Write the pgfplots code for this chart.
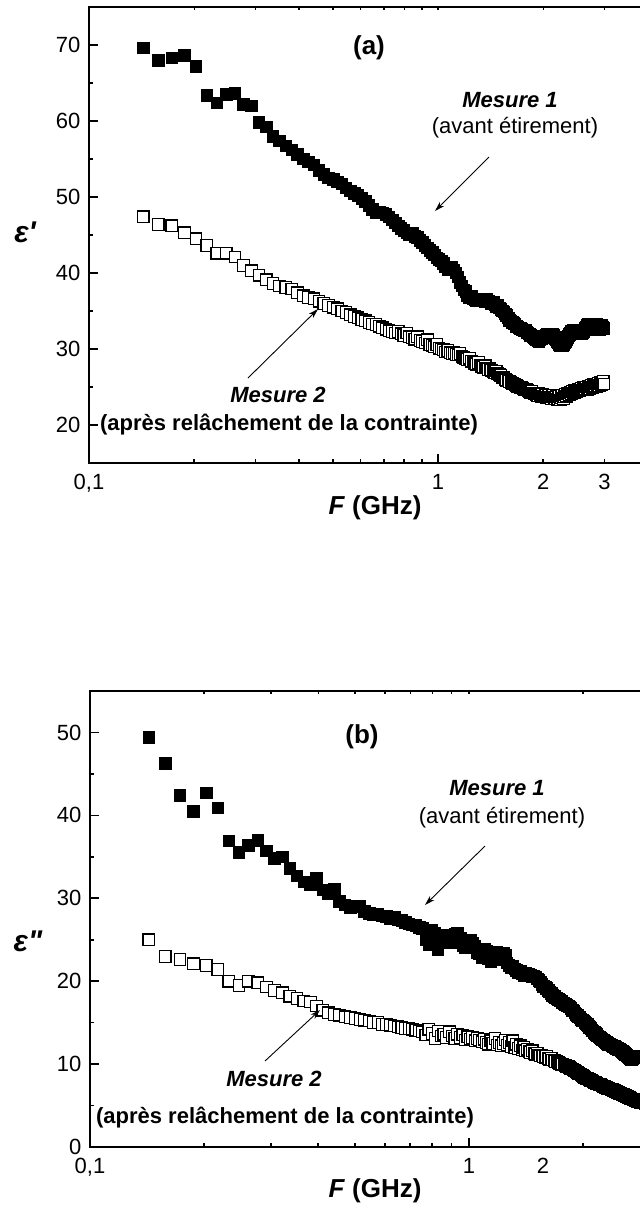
\documentclass[border=0pt]{standalone}
\usepackage{pgfplots}
\pgfplotsset{compat=1.18}
\usepackage{pgfplotstable}
\usepackage{fontspec}
\setmainfont{Liberation Sans}
\usetikzlibrary{arrows.meta}

\pgfplotstableread{
f a1 a2 b1 b2
0.1430 69.6 47.4 49.4 25.0
0.1579 68.0 46.4 46.3 23.0
0.1728 68.3 46.2 42.4 22.6
0.1877 68.6 45.3 40.5 22.1
0.2026 67.2 44.5 42.7 21.9
0.2175 63.4 43.6 40.9 21.4
0.2324 62.4 42.6 36.9 20.0
0.2473 63.5 42.6 35.5 19.5
0.2622 63.6 42.1 36.4 20.0
0.2771 62.2 41.0 37.0 19.8
0.2920 62.0 40.3 35.7 19.3
0.3069 59.8 39.7 34.8 18.9
0.3218 59.2 39.1 35.0 18.6
0.3367 58.0 38.6 33.6 18.2
0.3516 57.4 38.3 32.7 17.9
0.3665 56.7 38.1 32.0 17.6
0.3814 56.2 37.9 31.7 17.5
0.3963 55.6 37.4 32.4 17.0
0.4112 55.0 37.0 31.0 16.5
0.4261 54.6 36.8 30.6 16.2
0.4410 54.2 36.6 31.1 16.0
0.4559 53.5 36.3 29.6 15.9
0.4708 53.0 36.0 29.2 15.7
0.4857 52.5 35.7 28.9 15.6
0.5006 52.3 35.5 29.1 15.5
0.5155 52.0 35.3 29.0 15.4
0.5304 51.7 35.0 28.4 15.3
0.5453 51.2 34.8 28.2 15.2
0.5602 50.8 34.5 28.0 15.0
0.5751 50.5 34.3 28.1 15.0
0.5900 50.2 34.1 27.9 14.8
0.6049 49.8 33.9 27.8 14.8
0.6198 49.4 33.7 27.6 14.7
0.6347 48.9 33.5 27.7 14.6
0.6496 48.4 33.3 27.4 14.5
0.6645 48.0 33.2 27.3 14.4
0.6794 48.0 33.0 27.1 14.3
0.6943 47.9 32.8 26.9 14.3
0.7092 47.7 32.6 26.8 14.2
0.7241 47.4 32.4 26.7 14.1
0.7390 47.0 32.3 26.5 14.0
0.7539 46.6 32.1 26.4 13.9
0.7688 46.2 32.3 25.0 13.5
0.7837 45.9 32.0 24.4 14.2
0.7986 45.6 31.8 26.2 13.7
0.8135 45.3 32.1 25.8 13.1
0.8284 45.0 31.6 23.8 14.0
0.8433 45.2 31.5 24.6 13.4
0.8582 44.8 31.3 25.5 13.6
0.8731 44.7 31.6 25.3 13.2
0.8880 44.3 31.1 25.0 13.9
0.9029 44.0 31.0 24.6 13.4
0.9178 43.6 30.8 25.7 13.1
0.9327 43.3 31.2 25.8 13.6
0.9476 43.0 30.6 25.2 13.2
0.9625 42.7 30.5 24.3 13.5
0.9774 42.4 30.3 24.0 12.9
0.9923 42.0 30.6 25.0 13.3
1.0072 41.8 30.1 24.9 13.0
1.0221 41.6 30.0 24.6 13.2
1.0370 41.3 29.9 24.2 12.8
1.0519 40.8 29.6 23.5 13.1
1.0668 40.5 29.8 23.3 12.9
1.0817 40.6 29.5 22.8 12.7
1.0966 40.7 29.4 23.9 13.0
1.1115 40.4 29.5 23.6 12.6
1.1264 40.0 29.3 22.7 12.4
1.1413 39.5 29.2 22.4 12.8
1.1562 38.8 29.4 22.9 12.5
1.1711 38.3 29.0 23.2 13.1
1.1860 37.8 28.9 23.5 12.3
1.2009 37.6 28.8 23.0 12.6
1.2158 37.0 28.6 22.6 12.2
1.2307 36.8 28.8 23.4 12.5
1.2456 36.9 28.4 23.1 12.9
1.2605 36.6 28.3 22.2 12.3
1.2754 36.5 28.1 21.9 12.6
1.2903 36.4 28.0 21.7 12.1
1.3052 36.5 28.2 21.8 12.8
1.3201 36.6 27.9 21.5 12.0
1.3350 36.5 27.7 21.3 12.4
1.3499 36.4 27.6 21.0 11.9
1.3648 36.3 27.8 21.2 12.2
1.3797 36.5 27.5 20.9 11.7
1.3946 36.3 27.3 20.7 12.0
1.4095 36.2 27.4 21.0 11.6
1.4244 36.0 27.2 20.9 11.8
1.4393 36.1 27.0 20.8 11.5
1.4542 35.8 26.9 20.7 11.4
1.4691 35.6 27.1 20.6 11.6
1.4840 35.7 26.8 20.6 11.3
1.4989 35.4 26.6 20.5 11.2
1.5138 35.2 26.5 20.3 11.3
1.5287 35.0 26.3 20.1 11.1
1.5436 34.9 26.2 19.9 11.0
1.5585 34.6 26.0 19.6 11.1
1.5734 34.4 25.9 19.4 10.9
1.5883 34.1 25.8 19.3 10.8
1.6032 33.8 25.7 19.1 10.9
1.6181 33.7 25.6 18.9 10.7
1.6330 33.5 25.5 18.7 10.6
1.6479 33.4 25.4 18.5 10.7
1.6628 33.3 25.3 18.3 10.5
1.6777 33.0 25.2 18.2 10.4
1.6926 32.9 25.1 18.0 10.3
1.7075 32.8 25.0 17.9 10.3
1.7224 32.7 24.9 17.8 10.2
1.7373 32.6 25.0 17.7 10.1
1.7522 32.5 24.8 17.6 10.0
1.7671 32.4 24.7 17.4 10.0
1.7820 32.5 24.6 17.3 9.9
1.7969 32.2 24.7 17.2 9.8
1.8118 32.1 24.5 17.1 9.7
1.8267 32.0 24.4 17.0 9.7
1.8416 31.8 24.3 16.9 9.6
1.8565 31.7 24.4 16.7 9.5
1.8714 31.6 24.2 16.5 9.4
1.8863 31.5 24.1 16.4 9.3
1.9012 31.4 24.2 16.2 9.2
1.9161 31.2 24.0 16.0 9.1
1.9310 31.1 23.9 15.9 9.0
1.9459 31.0 24.1 15.7 8.9
1.9608 31.2 23.9 15.6 8.8
1.9757 31.4 23.8 15.4 8.7
1.9906 31.6 24.0 15.3 8.6
2.0055 31.5 23.7 15.2 8.5
2.0204 31.7 23.8 15.0 8.4
2.0353 31.8 23.9 14.9 8.3
2.0502 31.9 23.6 14.8 8.3
2.0651 31.7 23.7 14.6 8.2
2.0800 31.6 23.9 14.4 8.1
2.0949 31.5 23.6 14.3 8.0
2.1098 31.7 23.5 14.1 8.0
2.1247 31.9 23.7 14.0 7.9
2.1396 31.8 23.9 13.8 7.8
2.1545 31.6 23.6 13.7 7.8
2.1694 31.4 23.5 13.6 7.7
2.1843 31.2 23.7 13.4 7.6
2.1992 31.0 23.4 13.3 7.6
2.2141 30.8 23.5 13.2 7.5
2.2290 30.6 23.8 13.1 7.5
2.2439 30.5 23.3 13.0 7.4
2.2588 30.4 23.6 12.9 7.3
2.2737 30.5 23.9 12.8 7.3
2.2886 30.6 23.5 12.7 7.2
2.3035 30.8 23.7 12.6 7.2
2.3184 31.0 24.0 12.5 7.1
2.3333 31.3 23.8 12.4 7.1
2.3482 31.5 24.1 12.4 7.0
2.3631 31.7 24.2 12.3 7.0
2.3780 31.9 24.0 12.3 6.9
2.3929 32.1 24.3 12.2 6.9
2.4078 32.3 24.1 12.1 6.8
2.4227 32.4 24.4 12.1 6.8
2.4376 32.5 24.2 12.0 6.7
2.4525 32.4 24.5 11.9 6.7
2.4674 32.3 24.3 11.9 6.6
2.4823 32.2 24.6 11.8 6.6
2.4972 32.3 24.4 11.8 6.5
2.5121 32.4 24.5 11.7 6.5
2.5270 32.5 24.7 11.6 6.4
2.5419 32.3 24.5 11.5 6.3
2.5568 32.2 24.6 11.4 6.3
2.5717 32.1 24.8 11.3 6.2
2.5866 32.0 24.6 11.2 6.2
2.6015 32.1 24.7 11.1 6.1
2.6164 32.3 24.9 11.0 6.1
2.6313 32.5 24.6 10.9 6.0
2.6462 32.7 24.8 10.8 6.0
2.6611 32.9 25.0 10.7 5.9
2.6760 33.1 24.7 10.6 5.9
2.6909 33.2 24.9 10.6 5.8
2.7058 33.3 25.1 10.7 5.8
2.7207 33.1 24.8 10.8 5.7
2.7356 32.9 25.0 10.9 5.7
2.7505 32.7 25.2 11.0 5.6
2.7654 32.6 24.9 11.0 5.6
2.7803 32.5 25.1 10.9 5.5
2.7952 32.6 25.3 10.8 5.5
2.8101 32.8 25.0 10.8 5.5
2.8250 33.0 25.2 10.9 5.4
2.8399 33.2 25.4 11.0 5.4
2.8548 33.1 25.1 11.0 5.4
2.8697 32.9 25.3 10.9 5.3
2.8846 32.8 25.5 10.9 5.3
2.8995 32.6 25.2 10.8 5.3
2.9144 32.7 25.4 10.8 5.2
2.9293 32.9 25.6 10.7 5.2
2.9442 33.1 25.3 10.7 5.2
2.9591 32.9 25.5 10.7 5.1
2.9740 32.7 25.7 10.6 5.1
2.9889 32.8 25.4 10.6 5.1
}\data

\begin{document}
\begin{tikzpicture}
\path[use as bounding box] (0,0) rectangle (320pt,-603.5pt);
\clip (0,0) rectangle (320pt,-603.5pt);

% ---------- panel (a) ----------
\begin{axis}[at={(44.5pt,-231.5pt)}, anchor=south west,
  scale only axis, width=279.56pt, height=228pt,
  xmode=log, xmin=0.1, xmax=4, ymin=15, ymax=75,
  tick align=inside, major tick length=4.4pt, minor tick length=2.2pt,
  axis line style={line width=0.9pt},
  tick style={black, line width=0.8pt},
  xtick pos=left, ytick pos=left,
  tick label style={font=\fontsize{11}{13}\selectfont},
  /pgf/number format/assume math mode=true,
  xticklabel style={yshift=-2.0pt},
  yticklabel style={xshift=-0.8pt},
  xtick={0.1,1}, xticklabels={{0,1},{1}},
  minor xtick={0.2,0.3,0.4,0.5,0.6,0.7,0.8,0.9,2,3},
  ytick={20,30,40,50,60,70}, minor ytick={25,35,45,55,65}]
\addplot[only marks, mark=square*, mark size=2.9pt, mark options={fill=white, draw=black, line width=0.6pt}] table[x=f,y=a2]{\data};
\addplot[only marks, mark=square*, mark size=2.9pt, mark options={fill=black, draw=black, line width=0.4pt}] table[x=f,y=a1]{\data};
\end{axis}

% ---------- panel (b) ----------
\begin{axis}[at={(45pt,-573.5pt)}, anchor=south west,
  scale only axis, width=279.91pt, height=228pt,
  xmode=log, xmin=0.1, xmax=3, ymin=0, ymax=55,
  tick align=inside, major tick length=4.4pt, minor tick length=2.2pt,
  axis line style={line width=0.9pt},
  tick style={black, line width=0.8pt},
  xtick pos=left, ytick pos=left,
  tick label style={font=\fontsize{11}{13}\selectfont},
  /pgf/number format/assume math mode=true,
  xticklabel style={yshift=-2.0pt},
  yticklabel style={xshift=-0.8pt},
  xtick={0.1,1}, xticklabels={{0,1},{1}},
  minor xtick={0.2,0.3,0.4,0.5,0.6,0.7,0.8,0.9,2},
  ytick={0,10,20,30,40,50}, minor ytick={5,15,25,35,45}]
\addplot[only marks, mark=square*, mark size=2.9pt, mark options={fill=white, draw=black, line width=0.6pt}] table[x=f,y=b2]{\data};
\addplot[only marks, mark=square*, mark size=2.9pt, mark options={fill=black, draw=black, line width=0.4pt}] table[x=f,y=b1]{\data};
\end{axis}

% ---------- annotations (pixel coordinates) ----------
\begin{scope}[x=0.5pt, y=-0.5pt]
\tikzset{bi/.style={font=\fontsize{11}{13}\selectfont\bfseries\itshape},
         rg/.style={font=\fontsize{11}{13}\selectfont},
         bd/.style={font=\fontsize{11}{13}\selectfont\bfseries},
         tl/.style={font=\fontsize{11}{13}\selectfont, anchor=north, yshift=-2.0pt},
         arr/.style={-{Stealth[length=5pt,width=3pt]}, line width=0.45pt}}
% small ticks on the top edges
\foreach \t in {194.2,255.5,299.1,332.9,360.6,383.9,404.2,422.0,438.0,543.2,604.5}
  \draw[line width=0.7pt] (\t,7) -- ++(0,3.2);
\foreach \t in {204.1,270.8,318.2,354.9,384.9,410.3,432.3,451.7,469.0,583.1}
  \draw[line width=0.7pt] (\t,691) -- ++(0,3.2);
% extra tick labels
\node[tl] at (543.2,463) {2};
\node[tl] at (604.5,463) {3};
\node[tl] at (543,1147) {2};
% panel a
\node[font=\fontsize{13}{15}\selectfont\bfseries] at (369,48) {(a)};
\node[bi] at (510,100) {Mesure 1};
\node[rg] at (515,128) {(avant étirement)};
\draw[arr] (489,157) -- (435,211);
\node[bi] at (278,395) {Mesure 2};
\node[bd] at (289,425) {(après relâchement de la contrainte)};
\draw[arr] (248,378) -- (318,309);
\node[font=\fontsize{15}{17}\selectfont\bfseries\itshape] at (25,232) {ε\textquotesingle};
\node[font=\fontsize{13}{15}\selectfont\bfseries] at (375,508) {\textit{F} (GHz)};
% panel b
\node[font=\fontsize{13}{15}\selectfont\bfseries] at (362,737) {(b)};
\node[bi] at (497,788) {Mesure 1};
\node[rg] at (502,818) {(avant étirement)};
\draw[arr] (485,846) -- (425,905);
\node[bi] at (274,1079) {Mesure 2};
\node[bd] at (285,1118) {(après relâchement de la contrainte)};
\draw[arr] (265,1061) -- (320,1010);
\node[font=\fontsize{15}{17}\selectfont\bfseries\itshape] at (28,941) {ε\textquotedbl};
\node[font=\fontsize{13}{15}\selectfont\bfseries] at (375,1191) {\textit{F} (GHz)};
\end{scope}
\end{tikzpicture}
\end{document}
